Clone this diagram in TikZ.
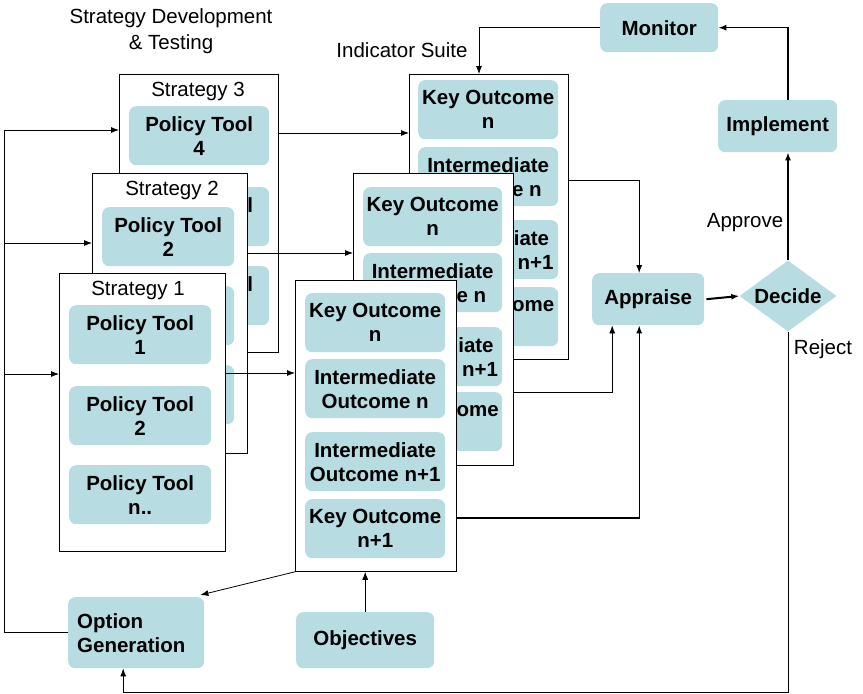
\documentclass[tikz,border=0pt]{standalone}
\usepackage{fontspec}
\setmainfont{Liberation Sans}
\usetikzlibrary{arrows.meta, shapes.geometric}

\definecolor{toolblue}{RGB}{183,221,226}

\tikzset{
    item/.style={fill=toolblue, rounded corners=7pt, anchor=north west, minimum height=59pt,
        inner sep=1pt, align=center, font=\bfseries\fontsize{20.5}{24}\selectfont},
    frame/.style={draw, fill=white, anchor=north west, inner sep=0pt, line width=0.8pt},
    lbl/.style={inner sep=0pt, align=center, font=\fontsize{20.5}{26}\selectfont},
    conn/.style={-{Latex[length=8pt,width=6pt]}, line width=0.8pt},
}

\begin{document}
\begin{tikzpicture}[x=1pt, y=-1pt]
        \useasboundingbox (0,0) rectangle (863,694);

        \node[lbl] (title) at (171,31) {Strategy Development\\\& Testing};
        \node[lbl] (suite) at (402,50) {Indicator Suite};

        % strategies, back to front
        \node[frame, minimum width=159pt, minimum height=278pt] (strat3) at (119,74) {};
        \node[lbl] (strat3lbl) at (198,91) {Strategy 3};
        \foreach \y/\txt [count=\i] in {106/{Policy Tool\\4}, 187/{Policy Tool\\\phantom{0}}, 266/{Policy Tool\\\phantom{0}}}
            \node[item, minimum width=140pt] (s3t\i) at (129,\y) {\txt};

        \node[frame, minimum width=155pt, minimum height=280pt] (strat2) at (92,173) {};
        \node[lbl] (strat2lbl) at (172,190) {Strategy 2};
        \foreach \y/\txt [count=\i] in {207/{Policy Tool\\2}, 286/{Policy Tool\\\phantom{0}}, 365/{Policy Tool\\\phantom{0}}}
            \node[item, minimum width=132pt] (s2t\i) at (102,\y) {\txt};

        \node[frame, minimum width=166pt, minimum height=278pt] (strat1) at (59,273) {};
        \node[lbl] (strat1lbl) at (138,290) {Strategy 1};
        \foreach \y/\txt [count=\i] in {305/{Policy Tool\\1}, 386/{Policy Tool\\2}, 465/{Policy Tool\\n..}}
            \node[item, minimum width=142pt] (s1t\i) at (69,\y) {\txt};

        % indicator suites, back to front
        \node[frame, minimum width=159pt, minimum height=285pt] (col3) at (409,74) {};
        \foreach \dy/\txt [count=\i] in {0/{Key Outcome\\n}, 67/{Intermediate\\Outcome n}, 140/{Intermediate\\Outcome n+1}, 207/{Key Outcome\\n+1}}
            \node[item, minimum width=140pt] (c3o\i) at (418,80+\dy) {\txt};

        \node[frame, minimum width=160pt, minimum height=292pt] (col2) at (353,173) {};
        \foreach \dy/\txt [count=\i] in {0/{Key Outcome\\n}, 66/{Intermediate\\Outcome n}, 140/{Intermediate\\Outcome n+1}, 205/{Key Outcome\\n+1}}
            \node[item, minimum width=139pt] (c2o\i) at (363,187+\dy) {\txt};

        \node[frame, minimum width=161pt, minimum height=291pt] (col1) at (295,280) {};
        \foreach \dy/\txt [count=\i] in {0/{Key Outcome\\n}, 66/{Intermediate\\Outcome n}, 139/{Intermediate\\Outcome n+1}, 206/{Key Outcome\\n+1}}
            \node[item, minimum width=140pt] (c1o\i) at (305,293+\dy) {\txt};

        % process boxes
        \node[item, minimum width=118pt, minimum height=49pt] (monitor) at (600,3) {Monitor};
        \node[item, minimum width=119pt, minimum height=52pt] (implement) at (718,100) {Implement};
        \node[item, minimum width=112pt, minimum height=52pt] (appraise) at (592,273) {Appraise};
        \node[diamond, fill=toolblue, minimum width=97pt, minimum height=71pt, inner sep=0pt,
            label={[font=\bfseries\fontsize{20.5}{24}\selectfont]center:Decide}] (decide) at (788,296) {};
        \node[item, minimum width=136pt, minimum height=71pt, text width=118pt, align=left] (optgen) at (68,597) {Option\\Generation};
        \node[item, minimum width=138pt, minimum height=56pt] (objectives) at (296,612) {Objectives};

        \node[lbl] (approve) at (745,223) {Approve};
        \node[lbl] (reject) at (823,349) {Reject};

        % connectors
        \coordinate (bus3) at (4,130);
        \coordinate (bus2) at (4,243);
        \coordinate (bus1) at (4,374);
        \coordinate (loopend) at (788,692);

        \draw[conn] (optgen.west) -| (bus3) -- (strat3.west |- bus3);
        \draw[conn] (bus2) -- (strat2.west |- bus2);
        \draw[conn] (bus1) -- (strat1.west |- bus1);

        \draw[conn] (strat3.east |- 0,133) -- (col3.west |- 0,133);
        \draw[conn] (strat2.east |- 0,253) -- (col2.west |- 0,253);
        \draw[conn] (strat1.east |- 0,373) -- (col1.west |- 0,373);

        \draw[conn] ([xshift=-1pt]col3.east |- 0,180) -| ([xshift=-9pt]appraise.north);
        \draw[conn] (col2.east |- 0,392) -| ([xshift=-36pt]appraise.south);
        \draw[conn, line width=1.3pt] (col1.east |- 0,518) -| ([xshift=-9pt]appraise.south);

        \draw[conn, line width=2pt] ([xshift=2pt]appraise.east) -- (decide.west);
        \draw[conn, line width=1.3pt] (decide.north) -- (decide.north |- implement.south);
        \draw[conn, line width=1.3pt] (decide.north |- implement.north) |- (monitor.east);
        \draw[conn] (monitor.west) -| ([xshift=70pt]col3.north west);
        \draw[conn] (decide.south) -- (loopend) -| ([xshift=-13pt]optgen.south);

        \draw[conn] (objectives.north) -- (objectives.north |- col1.south);
        \draw[conn] (col1.south west) -- ([xshift=-4pt,yshift=2pt]optgen.north east);
    \end{tikzpicture}
\end{document}
